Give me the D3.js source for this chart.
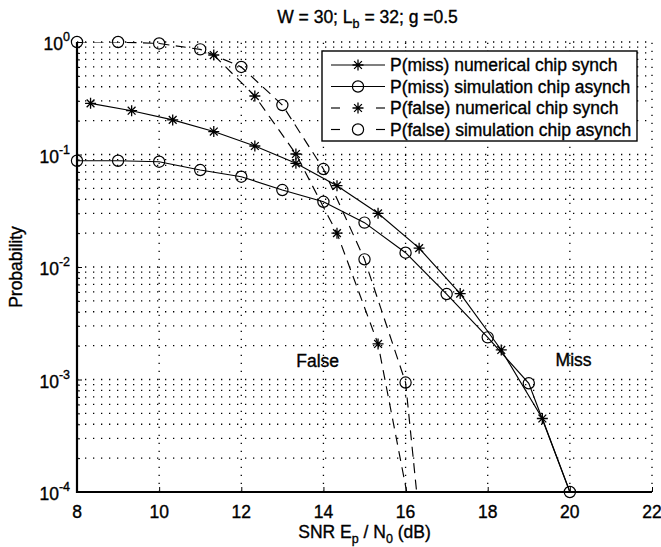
<!DOCTYPE html>
<html>
<head>
<meta charset="utf-8">
<script src="https://cdn.jsdelivr.net/npm/d3@7"></script>
<style>
  html, body { margin: 0; padding: 0; background: #fff; }
  svg { display: block; }
  text { font-family: "Liberation Sans", Arial, Helvetica, sans-serif; fill: #000; stroke: #000; stroke-width: 0.35px; }
</style>
</head>
<body>
<svg id="chart" width="661" height="547"></svg>
<script>
// Detection probabilities versus SNR
const missNumX = [8.33, 9.33, 10.33, 11.33, 12.33, 13.33, 14.33, 15.33, 16.33, 17.33, 18.33, 19.33, 20.33];
const missNumY = [0.285, 0.245, 0.203, 0.160, 0.119, 0.0835, 0.0528, 0.0300, 0.0147, 0.0058, 0.00183, 0.00045, 0.000048];

const missSimX = [8, 9, 10, 11, 12, 13, 14, 15, 16, 17, 18, 19, 20];
const missSimY = [0.088, 0.088, 0.0863, 0.0728, 0.0635, 0.0483, 0.038, 0.0248, 0.0134, 0.00575, 0.00237, 0.000925, 0.0001];

const falseNumX = [11.33, 12.33, 13.33, 14.33, 15.33, 16.33];
const falseNumY = [0.766, 0.331, 0.101, 0.0200, 0.00207, 0.000027];

const falseSimX = [8, 9, 10, 11, 12, 13, 14, 15, 16, 17];
const falseSimY = [1.0, 1.0, 0.97, 0.86, 0.60, 0.275, 0.0743, 0.0117, 0.00094, 0.00000023];

const seriesNames = [
  "P(miss) numerical chip synch",
  "P(miss) simulation chip asynch",
  "P(false) numerical chip synch",
  "P(false) simulation chip asynch"
];
const xTicks = [8, 10, 12, 14, 16, 18, 20, 22];
const yExponents = [0, -1, -2, -3, -4];
const titleParts = ["W = 30; L", "b", " = 32; g =0.5"];
const xLabelParts = ["SNR E", "p", " / N", "0", " (dB)"];
const yLabel = "Probability";
const annotations = [
  { text: "False", x: 13.86, y: 0.00129 },
  { text: "Miss", x: 20.09, y: 0.00131 }
];

const series = [
  { name: seriesNames[0], xs: missNumX, ys: missNumY, marker: "star", dashed: false },
  { name: seriesNames[1], xs: missSimX, ys: missSimY, marker: "circle", dashed: false },
  { name: seriesNames[2], xs: falseNumX, ys: falseNumY, marker: "star", dashed: true },
  { name: seriesNames[3], xs: falseSimX, ys: falseSimY, marker: "circle", dashed: true }
];

const svg = d3.select("#chart");
const plot = { left: 77, right: 652, top: 42, bottom: 492 };
const x = d3.scaleLinear().domain([8, 22]).range([plot.left, plot.right]);
const y = d3.scaleLog().domain([1e-4, 1]).range([plot.bottom, plot.top]);
const FS = 17.5;
const DASH = "10,6.5";

svg.append("defs").append("clipPath").attr("id", "plotClip")
  .append("rect")
  .attr("x", plot.left).attr("y", plot.top)
  .attr("width", plot.right - plot.left).attr("height", plot.bottom - plot.top);

// Grid: dotted horizontal lines on every decade step, dotted verticals on major x ticks
const grid = svg.append("g").attr("stroke", "#000").attr("stroke-width", 1.3)
  .attr("stroke-dasharray", "1.3,6.7").attr("fill", "none");
const yGridVals = [];
for (let e = -4; e < 0; e++) {
  for (let m = 1; m <= 9; m++) yGridVals.push(m * Math.pow(10, e));
}
yGridVals.push(1);
yGridVals.filter(v => v > 1e-4).forEach(v => {
  grid.append("line").attr("x1", plot.left).attr("x2", plot.right)
    .attr("y1", y(v)).attr("y2", y(v));
});
xTicks.filter(v => v > 8).forEach(v => {
  grid.append("line").attr("x1", x(v)).attr("x2", x(v))
    .attr("y1", plot.bottom).attr("y2", plot.top);
});

// Axes (ticks inward, no box)
const xAxis = d3.axisBottom(x).tickValues(xTicks).tickSizeInner(-5).tickSizeOuter(0).tickFormat("");
svg.append("g").attr("transform", `translate(0,${plot.bottom})`).call(xAxis)
  .call(g => g.select(".domain").attr("stroke-width", 2.2).attr("d", `M${plot.left - 1},0H${plot.right}`))
  .call(g => g.selectAll(".tick line").attr("stroke-width", 1));

const yAxis = d3.axisLeft(y).tickValues(yGridVals).tickSizeInner(-5).tickSizeOuter(0).tickFormat("");
svg.append("g").attr("transform", `translate(${plot.left},0)`).call(yAxis)
  .call(g => g.select(".domain").attr("stroke-width", 2.2).attr("d", `M0,${plot.top}V${plot.bottom + 1}`))
  .call(g => g.selectAll(".tick line")
    .attr("x2", d => (Math.abs(Math.log10(d) - Math.round(Math.log10(d))) < 1e-9) ? 5 : 3)
    .attr("stroke-width", 1));

// Tick labels
svg.append("g").selectAll("text").data(xTicks).join("text")
  .attr("x", d => x(d)).attr("y", plot.bottom + 26)
  .attr("text-anchor", "middle").attr("font-size", FS)
  .text(d => d);

const yl = svg.append("g").selectAll("text").data(yExponents).join("text")
  .attr("x", plot.left - 7).attr("y", d => y(Math.pow(10, d)) + 8)
  .attr("text-anchor", "end").attr("font-size", FS);
yl.append("tspan").text("10");
yl.append("tspan").attr("dy", -9).attr("font-size", 12.5).text(d => d === 0 ? "0" : d);

// Title
const title = svg.append("text").attr("x", (plot.left + plot.right) / 2 + 3).attr("y", 23)
  .attr("text-anchor", "middle").attr("font-size", FS);
title.append("tspan").text(titleParts[0]);
title.append("tspan").attr("dy", 5).attr("font-size", 12.5).text(titleParts[1]);
title.append("tspan").attr("dy", -5).text(titleParts[2]);

// X label
const xl = svg.append("text").attr("x", (plot.left + plot.right) / 2).attr("y", 538)
  .attr("text-anchor", "middle").attr("font-size", FS);
xl.append("tspan").text(xLabelParts[0]);
xl.append("tspan").attr("dy", 5).attr("font-size", 12.5).text(xLabelParts[1]);
xl.append("tspan").attr("dy", -5).text(xLabelParts[2]);
xl.append("tspan").attr("dy", 5).attr("font-size", 12.5).text(xLabelParts[3]);
xl.append("tspan").attr("dy", -5).text(xLabelParts[4]);

// Y label
svg.append("text").attr("transform", `translate(22,${(plot.top + plot.bottom) / 2}) rotate(-90)`)
  .attr("text-anchor", "middle").attr("font-size", FS).text(yLabel);

// Marker shapes
const starPath = "M-5.5,0H5.5M0,-5.5V5.5M-3.9,-3.9L3.9,3.9M-3.9,3.9L3.9,-3.9";
function drawMarker(g, kind, cx, cy) {
  if (kind === "circle") {
    g.append("circle").attr("cx", cx).attr("cy", cy).attr("r", 5.6)
      .attr("fill", "none").attr("stroke", "#000").attr("stroke-width", 1.2);
  } else {
    g.append("path").attr("d", starPath).attr("transform", `translate(${cx},${cy})`)
      .attr("fill", "none").attr("stroke", "#000").attr("stroke-width", 1.3);
  }
}

// Data lines and markers
const line = d3.line().x(d => x(d[0])).y(d => y(d[1]));
const dataG = svg.append("g");
series.forEach(s => {
  const pts = s.xs.map((v, i) => [v, s.ys[i]]);
  dataG.append("path").datum(pts).attr("d", line)
    .attr("clip-path", "url(#plotClip)")
    .attr("fill", "none").attr("stroke", "#000").attr("stroke-width", 1.15)
    .attr("stroke-dasharray", s.dashed ? DASH : null);
  const mg = dataG.append("g");
  pts.filter(p => p[1] >= 1e-4 && p[1] <= 1 && p[0] >= 8 && p[0] <= 22)
    .forEach(p => drawMarker(mg, s.marker, x(p[0]), y(p[1])));
});

// Annotations
svg.append("g").selectAll("text").data(annotations).join("text")
  .attr("x", d => x(d.x)).attr("y", d => y(d.y))
  .attr("text-anchor", "middle").attr("font-size", FS)
  .text(d => d.text);

// Legend
const lg = { x: 322, y: 51, w: 315, h: 90, row: 21.5 };
const legend = svg.append("g");
legend.append("rect").attr("x", lg.x).attr("y", lg.y).attr("width", lg.w).attr("height", lg.h)
  .attr("fill", "#fff").attr("stroke", "#000").attr("stroke-width", 1.4);
series.forEach((s, i) => {
  const cy = lg.y + 14 + i * lg.row;
  const x0 = lg.x + 9, x1 = lg.x + 63, cx = (x0 + x1) / 2;
  if (s.dashed) {
    legend.append("line").attr("x1", x0).attr("x2", x0 + 9).attr("y1", cy).attr("y2", cy)
      .attr("stroke", "#000").attr("stroke-width", 1.15);
    legend.append("line").attr("x1", x1 - 9).attr("x2", x1).attr("y1", cy).attr("y2", cy)
      .attr("stroke", "#000").attr("stroke-width", 1.15);
  } else {
    legend.append("line").attr("x1", x0).attr("x2", x1).attr("y1", cy).attr("y2", cy)
      .attr("stroke", "#000").attr("stroke-width", 1.15);
  }
  drawMarker(legend, s.marker, cx, cy);
  legend.append("text").attr("x", lg.x + 68).attr("y", cy + 6)
    .attr("font-size", FS).text(s.name);
});
</script>
</body>
</html>
